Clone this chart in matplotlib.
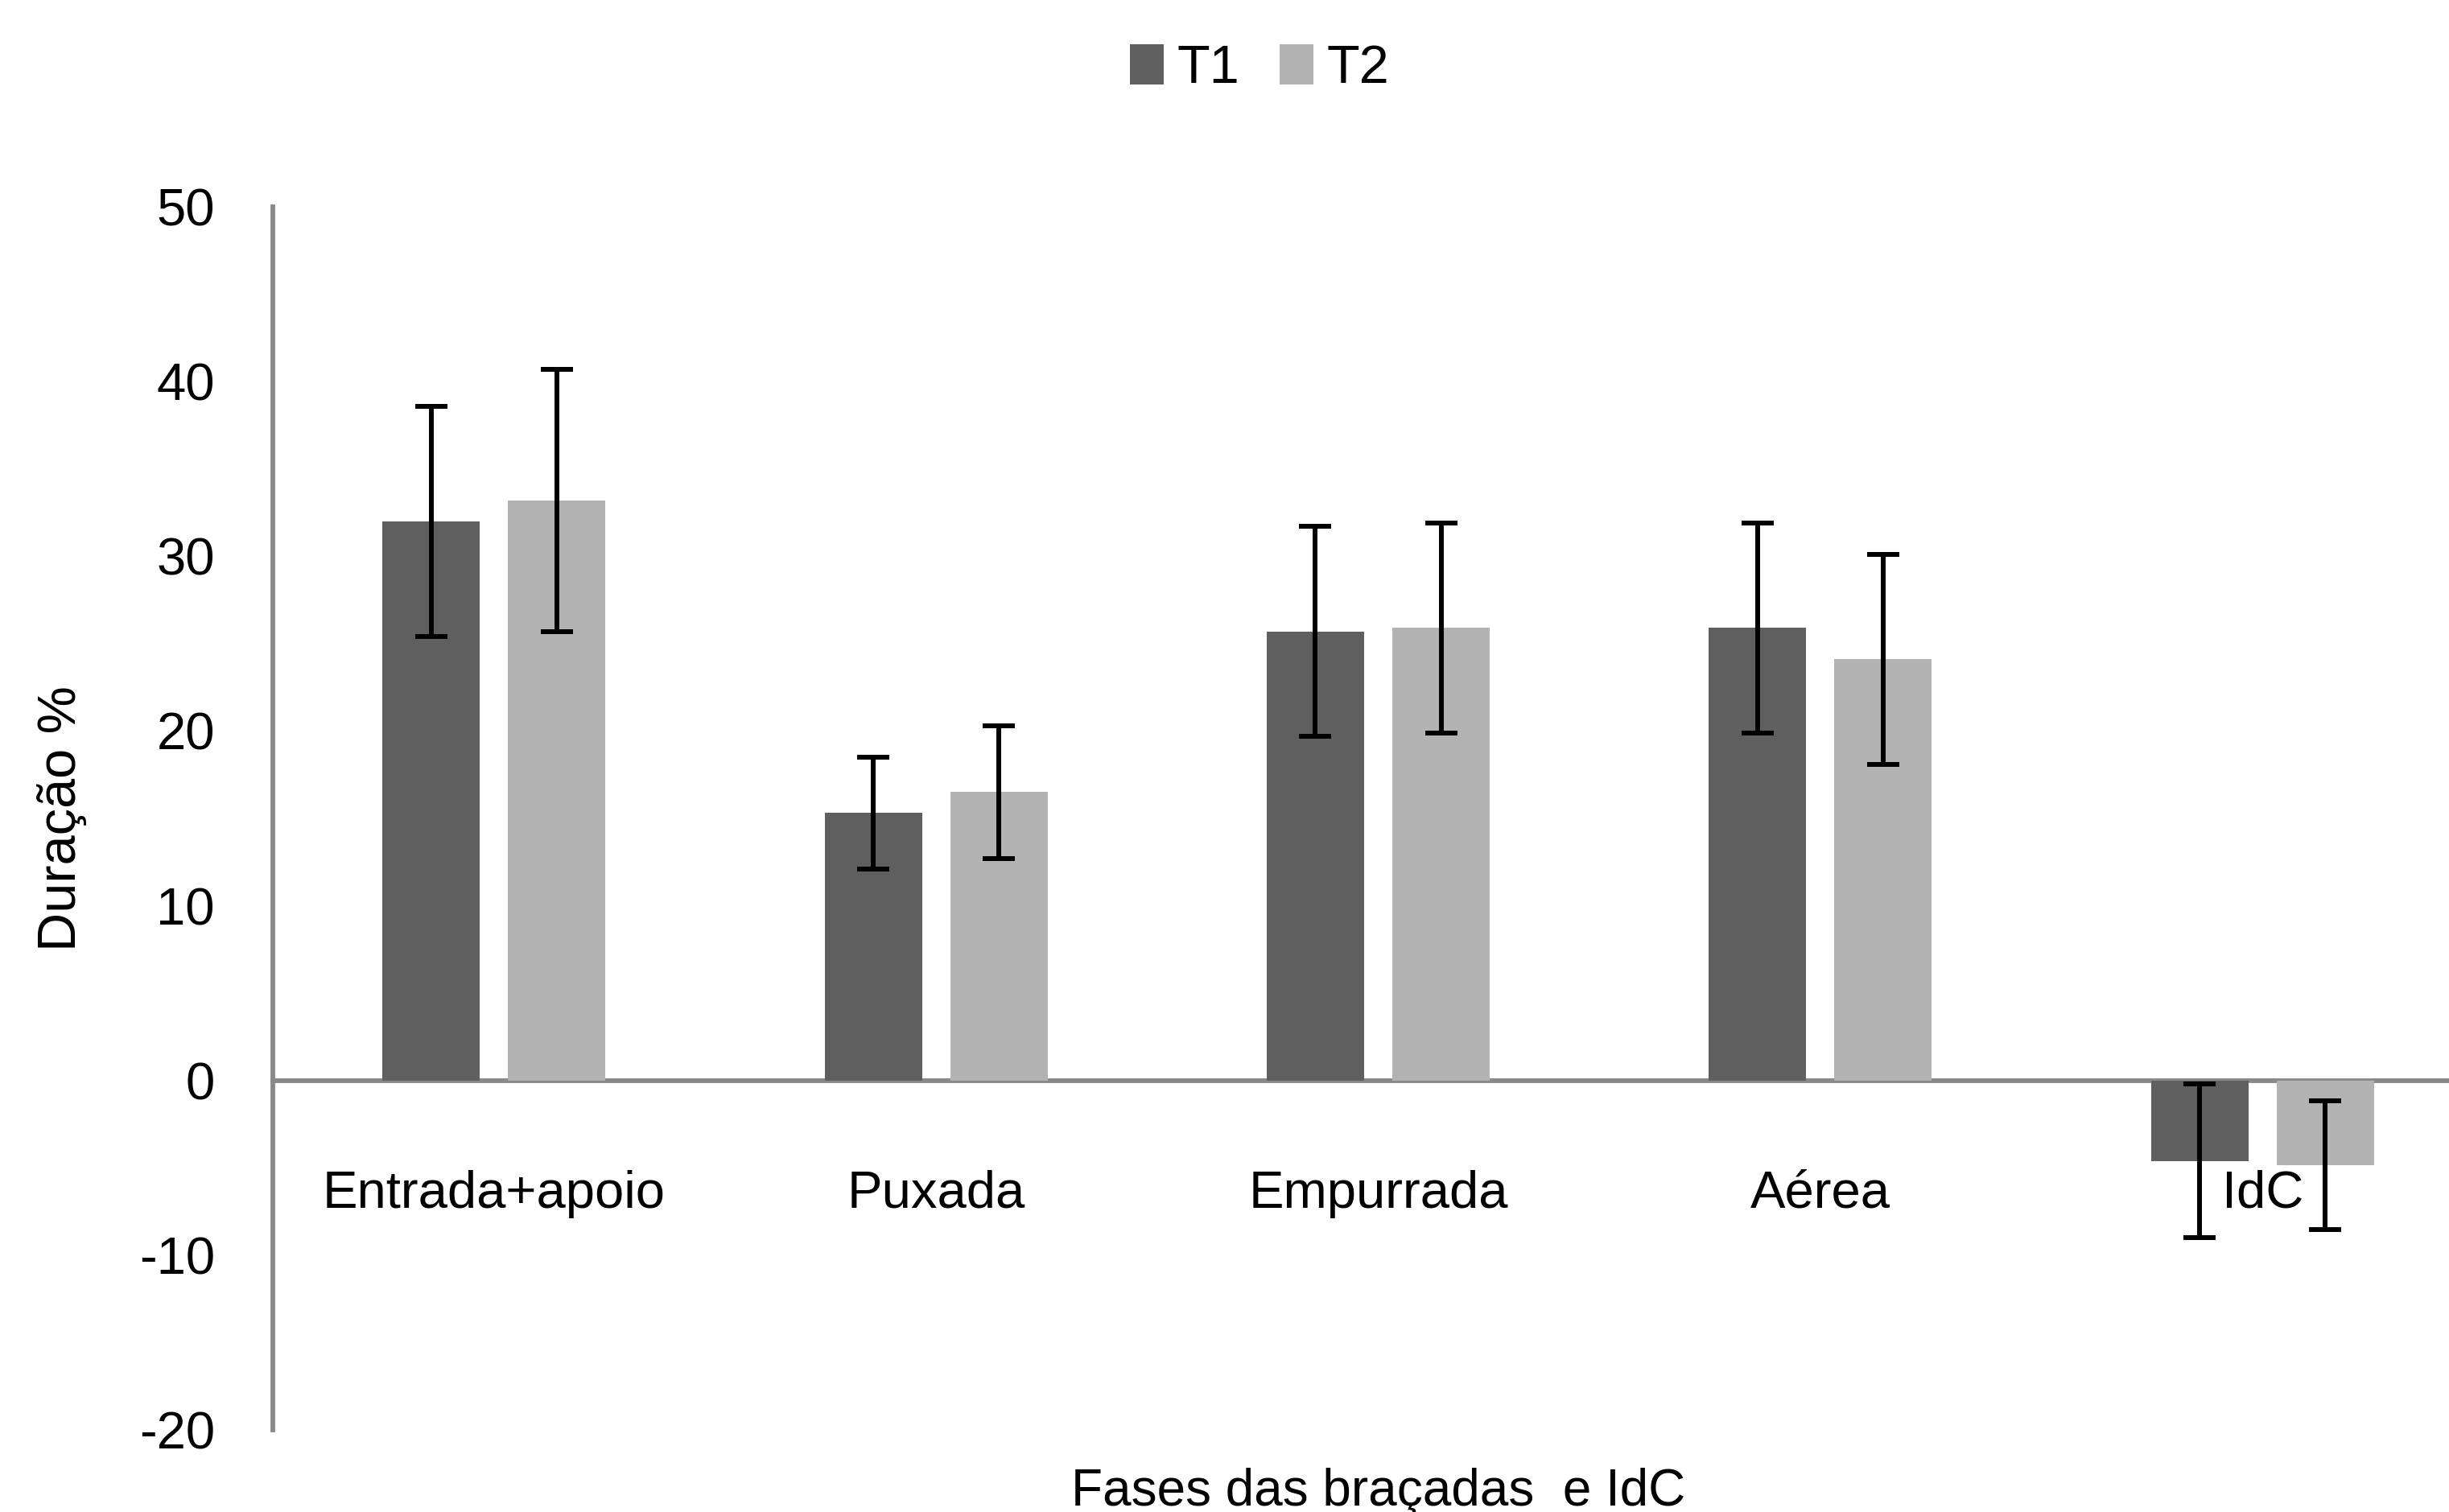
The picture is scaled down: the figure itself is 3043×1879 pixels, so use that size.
import matplotlib
matplotlib.use("Agg")
import matplotlib.pyplot as plt
import numpy as np

categories = ["Entrada+apoio", "Puxada", "Empurrada", "Aérea", "IdC"]
series_names = ["T1", "T2"]
t1_values = [32.0, 15.3, 25.7, 25.9, -4.6]
t1_errors = [6.6, 3.2, 6.0, 6.0, 4.4]
t2_values = [33.2, 16.5, 25.9, 24.1, -4.85]
t2_errors = [7.5, 3.8, 6.0, 6.0, 3.7]
y_ticks = [-20, -10, 0, 10, 20, 30, 40, 50]
y_label = "Duração %"
x_label = "Fases das braçadas  e IdC"

plt.rcParams["font.family"] = ["Liberation Sans", "DejaVu Sans"]
plt.rcParams["axes.unicode_minus"] = False

W, H = 3043, 1879
fig = plt.figure(figsize=(W / 100, H / 100), dpi=100)
ax = fig.add_axes([339 / W, 1 - 1777 / H, 2747 / W, (1777 - 257) / H])

x = np.arange(len(categories))
bw = 0.22
off = 0.142
c1, c2 = "#5f5f5f", "#b3b3b3"
b1 = ax.bar(x - off, t1_values, bw, color=c1, label=series_names[0], zorder=2)
b2 = ax.bar(x + off, t2_values, bw, color=c2, label=series_names[1], zorder=2)
ekw = dict(fmt="none", ecolor="black", elinewidth=4.3, capsize=14.4, capthick=4.3, zorder=3)
ax.errorbar(x - off, t1_values, yerr=t1_errors, **ekw)
ax.errorbar(x + off, t2_values, yerr=t2_errors, **ekw)

ax.set_xlim(-0.5, 4.5)
ax.set_ylim(-20, 50)
ax.set_yticks(y_ticks)
ax.set_yticklabels([str(v) for v in y_ticks])
ax.set_xticks(x)
ax.set_xticklabels(categories)

for s in ["top", "right"]:
    ax.spines[s].set_visible(False)
ax.spines["bottom"].set_position(("data", 0))
for s in ["left", "bottom"]:
    ax.spines[s].set_color("#898989")
    ax.spines[s].set_linewidth(4.2)
    ax.spines[s].set_zorder(1)

ax.tick_params(axis="y", length=0, pad=52, labelsize=47, labelcolor="black")
ax.tick_params(axis="x", length=0, pad=80, labelsize=47, labelcolor="black")

ax.set_ylabel(y_label, fontsize=48, va="center")
ax.yaxis.set_label_coords((77 - 339) / 2747, 0.5)
ax.set_xlabel(x_label, fontsize=46, va="top")
ax.xaxis.set_label_coords(0.5, -(1824 - 1777) / 1520)

fig.legend(handles=[b1, b2], labels=series_names, loc="center",
           bbox_to_anchor=(1565 / W, 1 - 86 / H), ncol=2, frameon=False,
           fontsize=48, handlelength=0.63, handleheight=0.77,
           handletextpad=0.24, columnspacing=0.75, borderpad=0, borderaxespad=0)

fig.savefig("out.png", dpi=100, facecolor="white")
